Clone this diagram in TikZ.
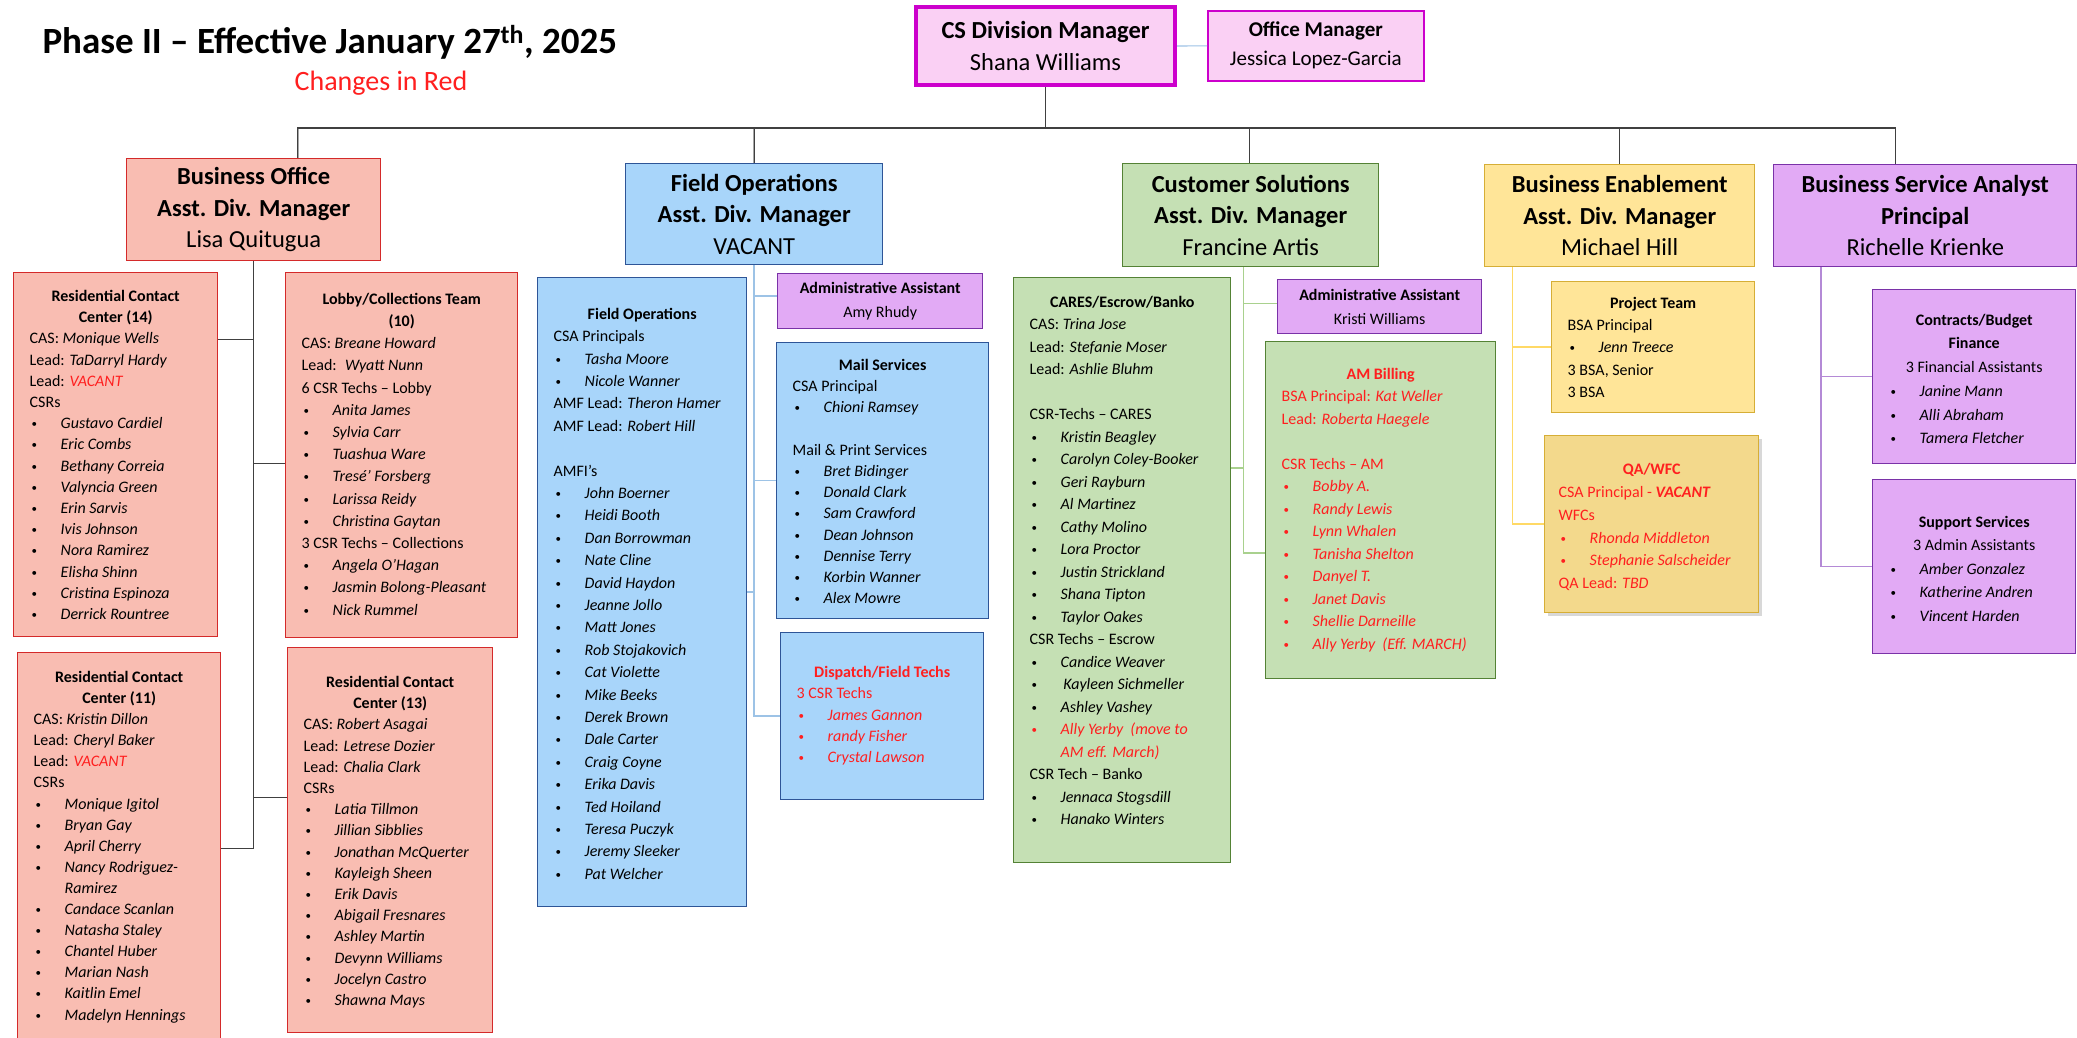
\documentclass[tikz,border=0pt]{standalone}
\usepackage{fontspec}
\setmainfont{Carlito}
\usetikzlibrary{shadows}
\definecolor{dmMag}{HTML}{CC00CC}
\definecolor{dmFill}{HTML}{FAD0F4}
\definecolor{boRed}{HTML}{D42A2A}
\definecolor{boFill}{HTML}{F9BDB2}
\definecolor{foBlue}{HTML}{2E5597}
\definecolor{foFill}{HTML}{A8D5FA}
\definecolor{foLine}{HTML}{9DC3E6}
\definecolor{csGreen}{HTML}{548235}
\definecolor{csFill}{HTML}{C5E0B4}
\definecolor{csLine}{HTML}{A9D18E}
\definecolor{beGold}{HTML}{D6AE36}
\definecolor{beFill}{HTML}{FFE598}
\definecolor{beLine}{HTML}{FFD966}
\definecolor{qaFill}{HTML}{F3D98C}
\definecolor{bsPurple}{HTML}{7A32A8}
\definecolor{bsFill}{HTML}{E2AAF5}
\definecolor{bsLine}{HTML}{B48AD6}
\definecolor{chgRed}{HTML}{FF1F1F}
\tikzset{
  mgr/.style={rectangle, draw, line width=1.4pt, anchor=north west, align=center,
              inner sep=0pt, font=\fontsize{24.5}{31.5}\selectfont},
  mgrd/.style={mgr, draw=dmMag, fill=dmFill},
  mgrr/.style={mgr, draw=boRed, fill=boFill},
  mgrb/.style={mgr, draw=foBlue, fill=foFill},
  mgrg/.style={mgr, draw=csGreen, fill=csFill},
  mgro/.style={mgr, draw=beGold, fill=beFill},
  mgrp/.style={mgr, draw=bsPurple, fill=bsFill},
  asst/.style={mgrp, font=\fontsize{16}{23.5}\selectfont},
  team/.style={rectangle, draw, line width=1.4pt, anchor=north west, inner xsep=16pt,
               inner ysep=0pt, font=\fontsize{16}{21.2}\selectfont},
  teamr/.style={team, draw=boRed, fill=boFill},
  teamb/.style={team, draw=foBlue, fill=foFill},
  teamg/.style={team, draw=csGreen, fill=csFill},
  teamo/.style={team, draw=beGold, fill=beFill},
  teamp/.style={team, draw=bsPurple, fill=bsFill},
  linkk/.style={draw=black!75, line width=1.3pt},
  busl/.style={draw=gray!70, line width=2.4pt},
  linkm/.style={draw=foLine, line width=1.2pt},
  linkb/.style={draw=foLine, line width=1.5pt},
  linkg/.style={draw=csLine, line width=1.5pt},
  linko/.style={draw=beLine, line width=1.5pt},
  linkp/.style={draw=bsLine, line width=1.5pt},
}
\newcommand{\pp}[1]{\makebox[31pt][l]{\hspace*{2pt}\raisebox{1pt}{\fontsize{11}{11}\selectfont\textbullet}}\textit{#1}}
\newcommand{\hd}[1]{\makebox[\linewidth]{\bfseries #1}}
\newcommand{\cl}[1]{\makebox[\linewidth]{#1}}
\newcommand{\vac}{\textcolor{chgRed}{\textit{VACANT}}}
\newcommand{\teamlist}[4]{\parbox[c][#1pt][t]{#2pt}{\raggedright\vspace*{#3pt}\strut#4}}

\begin{document}
\begin{tikzpicture}[x=1pt, y=-1pt]
\fill[white] (0,0) rectangle (2077,1037);
\useasboundingbox (0,0) rectangle (2077,1037);

% heading
\node[anchor=base west, font=\fontsize{37}{44}\selectfont\bfseries] (title) at (39,53)
  {Phase II -- Effective January 27\textsuperscript{th}, 2025};
\node[anchor=base, text=chgRed, font=\fontsize{28}{32}\selectfont] (chg) at (381,90) {Changes in Red};

% top level
\node[mgrd, line width=4pt, minimum width=259pt, minimum height=78pt] (csdm) at (914,5)
  {\textbf{CS Division Manager}\\Shana Williams};
\node[mgrd, line width=1.6pt, minimum width=216pt, minimum height=70pt,
      font=\fontsize{21}{29}\selectfont] (offm) at (1207,10)
  {\textbf{Office Manager}\\Jessica Lopez-Garcia};

\node[mgrr, minimum width=254pt, minimum height=102pt] (bo) at (126,158)
  {\textbf{Business Office}\\\textbf{Asst. Div. Manager}\\Lisa Quitugua};
\node[mgrb, minimum width=257pt, minimum height=101pt] (fo) at (625,163)
  {\textbf{Field Operations}\\\textbf{Asst. Div. Manager}\\VACANT};
\node[mgrg, minimum width=256pt, minimum height=103pt] (cs) at (1122,163)
  {\textbf{Customer Solutions}\\\textbf{Asst. Div. Manager}\\Francine Artis};
\node[mgro, minimum width=270pt, minimum height=102pt] (be) at (1484,164)
  {\textbf{Business Enablement}\\\textbf{Asst. Div. Manager}\\Michael Hill};
\node[mgrp, minimum width=303pt, minimum height=102pt] (bsa) at (1773,164)
  {\textbf{Business Service Analyst}\\\textbf{Principal}\\Richelle Krienke};

% business office
\node[teamr] (rcc14) at (13,272) {\teamlist{364}{172}{14}{%
  \hd{Residential Contact}\\
  \hd{Center (14)}\\
  CAS: \textit{Monique Wells}\\
  Lead: \textit{TaDarryl Hardy}\\
  Lead: \vac\\
  CSRs\\
  \pp{Gustavo Cardiel}\\
  \pp{Eric Combs}\\
  \pp{Bethany Correia}\\
  \pp{Valyncia Green}\\
  \pp{Erin Sarvis}\\
  \pp{Ivis Johnson}\\
  \pp{Nora Ramirez}\\
  \pp{Elisha Shinn}\\
  \pp{Cristina Espinoza}\\
  \pp{Derrick Rountree}}};
\node[teamr, font=\fontsize{16}{22.2}\selectfont] (lobby) at (285,272) {\teamlist{365}{200}{16}{%
  \hd{Lobby/Collections Team}\\
  \hd{(10)}\\
  CAS: \textit{Breane Howard}\\
  Lead: \ \textit{Wyatt Nunn}\\
  6 CSR Techs -- Lobby\\
  \pp{Anita James}\\
  \pp{Sylvia Carr}\\
  \pp{Tuashua Ware}\\
  \pp{Tresé' Forsberg}\\
  \pp{Larissa Reidy}\\
  \pp{Christina Gaytan}\\
  3 CSR Techs -- Collections\\
  \pp{Angela O'Hagan}\\
  \pp{Jasmin Bolong-Pleasant}\\
  \pp{Nick Rummel}}};
\node[teamr, font=\fontsize{16}{21.1}\selectfont] (rcc11) at (17,652) {\teamlist{392}{171}{15}{%
  \hd{Residential Contact}\\
  \hd{Center (11)}\\
  CAS: \textit{Kristin Dillon}\\
  Lead: \textit{Cheryl Baker}\\
  Lead: \vac\\
  CSRs\\
  \pp{Monique Igitol}\\
  \pp{Bryan Gay}\\
  \pp{April Cherry}\\
  \pp{Nancy Rodriguez-}\\
  \hspace*{31pt}\textit{Ramirez}\\
  \pp{Candace Scanlan}\\
  \pp{Natasha Staley}\\
  \pp{Chantel Huber}\\
  \pp{Marian Nash}\\
  \pp{Kaitlin Emel}\\
  \pp{Madelyn Hennings}}};
\node[teamr] (rcc13) at (287,647) {\teamlist{385}{173}{25}{%
  \hd{Residential Contact}\\
  \hd{Center (13)}\\
  CAS: \textit{Robert Asagai}\\
  Lead: \textit{Letrese Dozier}\\
  Lead: \textit{Chalia Clark}\\
  CSRs\\
  \pp{Latia Tillmon}\\
  \pp{Jillian Sibblies}\\
  \pp{Jonathan McQuerter}\\
  \pp{Kayleigh Sheen}\\
  \pp{Erik Davis}\\
  \pp{Abigail Fresnares}\\
  \pp{Ashley Martin}\\
  \pp{Devynn Williams}\\
  \pp{Jocelyn Castro}\\
  \pp{Shawna Mays}}};

% field operations
\node[teamb, font=\fontsize{16}{22.4}\selectfont] (fops) at (537,277) {\teamlist{629}{177}{26}{%
  \hd{Field Operations}\\
  CSA Principals\\
  \pp{Tasha Moore}\\
  \pp{Nicole Wanner}\\
  AMF Lead: \textit{Theron Hamer}\\
  AMF Lead: \textit{Robert Hill}\\
  \mbox{}\\
  AMFI’s\\
  \pp{John Boerner}\\
  \pp{Heidi Booth}\\
  \pp{Dan Borrowman}\\
  \pp{Nate Cline}\\
  \pp{David Haydon}\\
  \pp{Jeanne Jollo}\\
  \pp{Matt Jones}\\
  \pp{Rob Stojakovich}\\
  \pp{Cat Violette}\\
  \pp{Mike Beeks}\\
  \pp{Derek Brown}\\
  \pp{Dale Carter}\\
  \pp{Craig Coyne}\\
  \pp{Erika Davis}\\
  \pp{Ted Hoiland}\\
  \pp{Teresa Puczyk}\\
  \pp{Jeremy Sleeker}\\
  \pp{Pat Welcher}}};
\node[asst, minimum width=205pt, minimum height=55pt] (aafo) at (777,273)
  {\textbf{Administrative Assistant}\\Amy Rhudy};
\node[teamb] (mail) at (776,342) {\teamlist{276}{180}{13}{%
  \hd{Mail Services}\\
  CSA Principal\\
  \pp{Chioni Ramsey}\\
  \mbox{}\\
  Mail \& Print Services\\
  \pp{Bret Bidinger}\\
  \pp{Donald Clark}\\
  \pp{Sam Crawford}\\
  \pp{Dean Johnson}\\
  \pp{Dennise Terry}\\
  \pp{Korbin Wanner}\\
  \pp{Alex Mowre}}};
\node[teamb, text=chgRed, font=\fontsize{16}{21.3}\selectfont] (disp) at (780,632) {\teamlist{167}{171}{30}{%
  \hd{Dispatch/Field Techs}\\
  3 CSR Techs\\
  \pp{James Gannon}\\
  \pp{randy Fisher}\\
  \pp{Crystal Lawson}}};

% customer solutions
\node[teamg, font=\fontsize{16}{22.5}\selectfont] (cares) at (1013,277) {\teamlist{585}{185}{14}{%
  \hd{CARES/Escrow/Banko}\\
  CAS: \textit{Trina Jose}\\
  Lead: \textit{Stefanie Moser}\\
  Lead: \textit{Ashlie Bluhm}\\
  \mbox{}\\
  CSR-Techs -- CARES\\
  \pp{Kristin Beagley}\\
  \pp{Carolyn Coley-Booker}\\
  \pp{Geri Rayburn}\\
  \pp{Al Martinez}\\
  \pp{Cathy Molino}\\
  \pp{Lora Proctor}\\
  \pp{Justin Strickland}\\
  \pp{Shana Tipton}\\
  \pp{Taylor Oakes}\\
  CSR Techs -- Escrow\\
  \pp{Candice Weaver}\\
  \pp{\,Kayleen Sichmeller}\\
  \pp{Ashley Vashey}\\
  {\color{chgRed}\pp{Ally Yerby \ (move to}}\\
  \hspace*{31pt}\textcolor{chgRed}{\textit{AM eff. March)}}\\
  CSR Tech -- Banko\\
  \pp{Jennaca Stogsdill}\\
  \pp{Hanako Winters}}};
\node[asst, minimum width=204pt, minimum height=54pt] (aacs) at (1277,279)
  {\textbf{Administrative Assistant}\\Kristi Williams};
\node[teamg, text=chgRed, font=\fontsize{16}{22.5}\selectfont] (ambill) at (1265,341) {\teamlist{337}{198}{22}{%
  \hd{AM Billing}\\
  BSA Principal: \textit{Kat Weller}\\
  Lead: \textit{Roberta Haegele}\\
  \mbox{}\\
  CSR Techs -- AM\\
  \pp{Bobby A.}\\
  \pp{Randy Lewis}\\
  \pp{Lynn Whalen}\\
  \pp{Tanisha Shelton}\\
  \pp{Danyel T.}\\
  \pp{Janet Davis}\\
  \pp{Shellie Darneille}\\
  \pp{Ally Yerby \ (Eff. MARCH)}}};

% business enablement
\node[teamo, font=\fontsize{16}{22.3}\selectfont] (proj) at (1551,281) {\teamlist{131}{171}{11}{%
  \hd{Project Team}\\
  BSA Principal\\
  \pp{Jenn Treece}\\
  3 BSA, Senior\\
  3 BSA}};
\node[teamo, fill=qaFill, inner xsep=14pt, text=chgRed, font=\fontsize{16}{22.8}\selectfont,
      drop shadow={shadow xshift=3pt, shadow yshift=-3pt, opacity=0.3}] (qa) at (1544,435) {\teamlist{177}{186}{23}{%
  \hd{QA/WFC}\\
  CSA Principal - \textbf{\textit{VACANT}}\\
  WFCs\\
  \pp{Rhonda Middleton}\\
  \pp{Stephanie Salscheider}\\
  QA Lead: \textit{TBD}}};

% business service analyst
\node[teamp, font=\fontsize{16}{23.7}\selectfont] (contr) at (1872,289) {\teamlist{174}{171}{19}{%
  \hd{Contracts/Budget}\\
  \hd{Finance}\\
  \cl{3 Financial Assistants}\\
  \pp{Janine Mann}\\
  \pp{Alli Abraham}\\
  \pp{Tamera Fletcher}}};
\node[teamp, font=\fontsize{16}{23.5}\selectfont] (supp) at (1872,479) {\teamlist{174}{171}{31}{%
  \hd{Support Services}\\
  \cl{3 Admin Assistants}\\
  \pp{Amber Gonzalez}\\
  \pp{Katherine Andren}\\
  \pp{Vincent Harden}}};

% connectors
\draw[linkm] (csdm) -- (offm);
\draw[linkk] (csdm.south) -- ++(0,41) coordinate (hub);
\draw[busl] (hub) -| ([xshift=44pt]bo.north);
\draw[busl] (hub) -| (fo.north);
\draw[linkk] (hub) -| ([xshift=44pt]bo.north);
\draw[linkk] (hub) -| (fo.north);
\draw[linkk] (hub) -| ([xshift=-1pt]cs.north);
\draw[linkk] (hub) -| (be.north);
\draw[linkk] (hub) -| ([xshift=-30pt]bsa.north);

\draw[linkk] (bo.south) |- ([yshift=115pt]rcc14.east);
\draw[linkk] (bo.south) |- ([yshift=-8pt]lobby.west);
\draw[linkk] (bo.south) |- ([yshift=43pt]rcc13.west);
\draw[linkk] (bo.south) |- (rcc11.east);

\draw[linkb] (fo.south) |- ([yshift=5pt]aafo.west);
\draw[linkb] (fo.south) |- (mail.west);
\draw[linkb] (fo.south) |- (fops.east);
\draw[linkb] (fo.south) |- (disp.west);

\draw[linkg] ([xshift=-7pt]cs.south) |- ([yshift=3pt]aacs.west);
\draw[linkg] ([xshift=-7pt]cs.south) |- ([yshift=102pt]cares.east);
\draw[linkg] ([xshift=-7pt]cs.south) |- ([yshift=-43pt]ambill.west);

\draw[linko] ([xshift=-107pt]be.south) |- (proj.west);
\draw[linko] ([xshift=-107pt]be.south) |- (qa.west);

\draw[linkp] ([xshift=-104pt]bsa.south) |- (contr.west);
\draw[linkp] ([xshift=-104pt]bsa.south) |- (supp.west);
\end{tikzpicture}
\end{document}
